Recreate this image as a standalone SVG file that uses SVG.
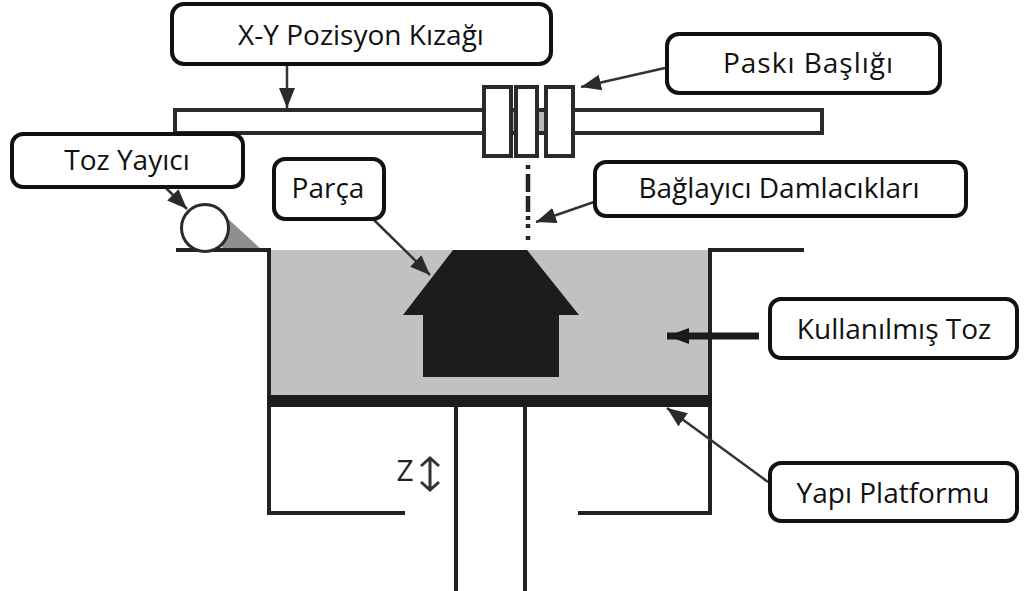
<svg xmlns="http://www.w3.org/2000/svg" width="1024" height="591" viewBox="0 0 1024 591">
<style>
.label rect{fill:#fff;stroke:#111;stroke-width:4}
.label text{font-family:"Open Sans","Noto Sans",sans-serif;font-size:28px;fill:#111;text-anchor:middle}
.ln{fill:none;stroke:#222;stroke-width:4}
.hd{fill:#fff;stroke:#2a2a2a;stroke-width:4}
.ar{fill:none;stroke:#333;stroke-width:2.5;marker-end:url(#ah)}
</style>
<defs>
<marker id="ah" markerUnits="userSpaceOnUse" markerWidth="22" markerHeight="18" refX="20" refY="8" orient="auto"><path d="M0 0L20 8L0 16Z" fill="#2a2a2a"/></marker>
<marker id="ah2" markerUnits="userSpaceOnUse" markerWidth="24" markerHeight="18" refX="22" refY="8" orient="auto"><path d="M0 0L22 8L0 16Z" fill="#1a1a1a"/></marker>
</defs>
<rect width="1024" height="591" fill="#fff"/>
<g id="machine">
<rect x="270" y="250" width="440" height="146" fill="#c0c2c1"/>
<polygon points="225,216 262,250 222,250" fill="#8f8f8f"/>
<path class="ln" d="M176 250H269V407M710 407V250H804"/>
<path class="ln" d="M269 405V513H405M578 513H710V405"/>
<path class="ln" d="M456 405V591M525 405V591"/>
<rect x="268" y="395" width="444" height="12" fill="#1c1c1c"/>
<polygon points="453,250 527,250 579,315 559,315 559,377 423,377 423,315 403,315" fill="#1c1c1c"/>
<circle cx="205" cy="228" r="23.5" fill="#fff" stroke="#2a2a2a" stroke-width="3"/>
<rect class="hd" x="175" y="110" width="647" height="23"/>
<rect fill="#b8b8b8" x="511" y="112" width="34" height="19"/>
<path d="M511 110H545M511 133H545" stroke="#2a2a2a" stroke-width="4"/>
<rect class="hd" x="484" y="87" width="27" height="69"/>
<rect class="hd" x="516" y="87" width="21" height="69"/>
<rect class="hd" x="546" y="87" width="27" height="69"/>
<path d="M528 165V240" stroke="#222" stroke-width="4.5" stroke-dasharray="4 5 18 4 16 4 4 4 4 8 4"/>
<text x="405" y="481" font-family="Open Sans,Noto Sans,sans-serif" font-size="30" fill="#222" text-anchor="middle">Z</text>
<path d="M430 458V490M421 466L430 458L439 466M421 482L430 490L439 482" fill="none" stroke="#333" stroke-width="3"/>
</g>
<g id="connectors">
<path class="ar" d="M287 64V108"/>
<path class="ar" d="M665 68L581 87"/>
<path class="ar" d="M594 202L536 222"/>
<path class="ar" d="M165 187L187 209"/>
<path class="ar" d="M373 219L430 275"/>
<path d="M759 336H667" fill="none" stroke="#1a1a1a" stroke-width="7" marker-end="url(#ah2)"/>
<path class="ar" d="M768 482L667 408"/>
</g>
<g id="xy" class="label"><rect x="172" y="4" width="379" height="60" rx="12"/><text x="361" y="45">X-Y Pozisyon Kızağı</text></g>
<g id="pask" class="label"><rect x="667" y="34" width="273" height="59" rx="12"/><text x="808" y="73" textLength="170">Paskı Başlığı</text></g>
<g id="toz" class="label"><rect x="12" y="134" width="231" height="53" rx="11"/><text x="127" y="170">Toz Yayıcı</text></g>
<g id="parca" class="label"><rect x="274" y="159" width="110" height="60" rx="11"/><text x="328" y="198">Parça</text></g>
<g id="bag" class="label"><rect x="595" y="162" width="371" height="54" rx="11"/><text x="779" y="198">Bağlayıcı Damlacıkları</text></g>
<g id="kul" class="label"><rect x="770" y="299" width="247" height="59" rx="11"/><text x="894" y="339">Kullanılmış Toz</text></g>
<g id="yapi" class="label"><rect x="770" y="463" width="247" height="58" rx="11"/><text x="893" y="503">Yapı Platformu</text></g>
</svg>
